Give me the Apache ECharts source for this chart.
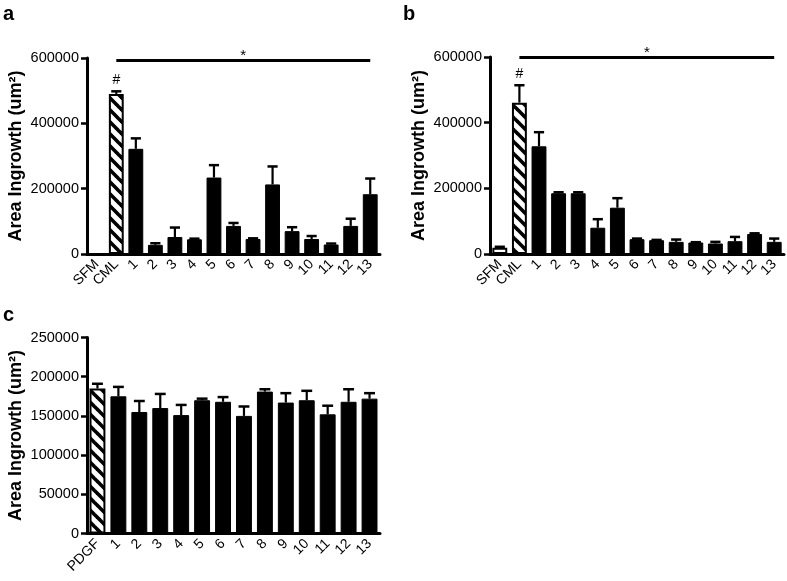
<!DOCTYPE html>
<html><head><meta charset="utf-8">
<script src="https://cdn.jsdelivr.net/npm/echarts@6/dist/echarts.min.js"></script>
<style>html,body{margin:0;padding:0;background:#fff}#c{width:787px;height:581px}</style>
</head><body><div id="c"></div>
<script>
// ---- data ----
const catsA = ['SFM','CML','1','2','3','4','5','6','7','8','9','10','11','12','13'];
const valA  = [0, 490000, 322000, 28000, 52000, 45000, 234000, 86000, 46000, 213000, 70000, 46000, 29000, 86000, 183000];
const errA  = [0, 8000, 32000, 5000, 29000, 2000, 38000, 9000, 2000, 55000, 12000, 9000, 3000, 22000, 48000];
const flagA = ['', '#', '', '', '', '', '', '', '', '', '', '', '', '', ''];

const catsB = ['SFM','CML','1','2','3','4','5','6','7','8','9','10','11','12','13'];
const valB  = [19000, 461000, 328000, 185000, 185000, 80000, 141000, 45000, 42000, 37000, 35000, 32000, 39000, 61000, 37000];
const errB  = [3000, 53000, 43000, 3000, 3000, 26000, 29000, 2000, 1000, 7000, 1000, 5000, 13000, 2000, 10000];
const flagB = ['', '#', '', '', '', '', '', '', '', '', '', '', '', '', ''];

const catsC = ['PDGF','1','2','3','4','5','6','7','8','9','10','11','12','13'];
const valC  = [185000, 175000, 155000, 160000, 151000, 170000, 168000, 150000, 181000, 167000, 170000, 152000, 168000, 172000];
const errC  = [6000, 12000, 14000, 18000, 13000, 2000, 6000, 12000, 3000, 12000, 12000, 11000, 16000, 7000];
const flagC = ['', '', '', '', '', '', '', '', '', '', '', '', '', ''];

const yTicksAB = [0, 200000, 400000, 600000];
const yTicksC  = [0, 50000, 100000, 150000, 200000, 250000];
const sigA = {from: 'CML', to: '13', level: 594000, label: '*'};
const sigB = {from: 'CML', to: '13', level: 600000, label: '*'};
const yName = 'Area Ingrowth (um\u00B2)';

// ---- styles ----
const FONT = 'Liberation Sans, Arial, Helvetica, sans-serif';
function makeHatch() {
  const s = 12, cv = document.createElement('canvas');
  cv.width = s; cv.height = s;
  const g = cv.getContext('2d');
  g.fillStyle = '#fff'; g.fillRect(0, 0, s, s);
  g.strokeStyle = '#000'; g.lineWidth = 3.6; g.lineCap = 'square';
  [-s, 0, s].forEach(c => { g.beginPath(); g.moveTo(0, c); g.lineTo(s, c + s); g.stroke(); });
  return cv;
}
const hatch = {image: makeHatch(), repeat: 'repeat'};
function styleFor(cat) {
  if (cat === 'CML' || cat === 'PDGF') return {color: hatch, borderColor: '#000', borderWidth: 2};
  if (cat === 'SFM') return {color: '#fff', borderColor: '#000', borderWidth: 2};
  return {color: '#000', borderColor: '#000', borderWidth: 1};
}

const grids = [
  {left: 87, top: 58, width: 293, height: 196},
  {left: 490, top: 57, width: 294, height: 197},
  {left: 87, top: 337.5, width: 293, height: 196}
];

function xAxisFor(cats, gi) {
  return {
    type: 'category', gridIndex: gi, data: cats,
    axisLine: {lineStyle: {color: '#000', width: 3}},
    axisTick: {alignWithLabel: true, length: 6, lineStyle: {color: '#000', width: 2.5}},
    axisLabel: {rotate: 45, color: '#000', fontSize: 14, fontFamily: FONT, margin: 8, interval: 0}
  };
}
function yAxisFor(ticks, gi) {
  return {
    type: 'value', gridIndex: gi,
    min: ticks[0], max: ticks[ticks.length - 1], interval: ticks[1] - ticks[0],
    name: yName, nameLocation: 'middle', nameGap: 62,
    nameTextStyle: {color: '#000', fontSize: 18, fontWeight: 'bold', fontFamily: FONT},
    splitLine: {show: false},
    axisLine: {show: true, lineStyle: {color: '#000', width: 3}},
    axisTick: {show: true, length: 6, lineStyle: {color: '#000', width: 2.5}},
    axisLabel: {color: '#000', fontSize: 14.5, fontFamily: FONT, margin: 8, formatter: v => String(v)}
  };
}
function errRender(flags) {
  return function (params, api) {
    const i = api.value(0), v = api.value(1), e = api.value(2);
    const p0 = api.coord([i, v]);
    const p1 = api.coord([i, v + e]);
    const hw = api.size([1, 0])[0] * 0.26;
    const children = [];
    if (e > 0) {
      children.push({type: 'line', shape: {x1: p0[0], y1: p0[1], x2: p1[0], y2: p1[1]}, style: {stroke: '#000', lineWidth: 2.2}});
      children.push({type: 'line', shape: {x1: p1[0] - hw, y1: p1[1], x2: p1[0] + hw, y2: p1[1]}, style: {stroke: '#000', lineWidth: 2.5}});
    }
    const f = flags[params.dataIndex];
    if (f) {
      children.push({type: 'text', style: {text: f, x: p1[0], y: p1[1] - 11, align: 'center', verticalAlign: 'middle',
        fontSize: 14, fontFamily: FONT, fill: '#000'}});
    }
    return {type: 'group', children};
  };
}
function seriesFor(cats, vals, errs, flags, gi, sig) {
  const bar = {
    type: 'bar', xAxisIndex: gi, yAxisIndex: gi, barCategoryGap: '24%',
    data: vals.map((v, i) => ({value: v, itemStyle: styleFor(cats[i])})),
    animation: false, silent: true
  };
  if (sig) {
    bar.markLine = {
      silent: true, symbol: ['none', 'none'], animation: false,
      lineStyle: {color: '#000', width: 3, type: 'solid'},
      label: {show: true, position: 'insideMiddleTop', formatter: sig.label, color: '#000', fontSize: 15, fontFamily: FONT, distance: -3},
      data: [[{coord: [sig.from, sig.level]}, {coord: [sig.to, sig.level]}]]
    };
  }
  const err = {
    type: 'custom', xAxisIndex: gi, yAxisIndex: gi, z: 5, animation: false, silent: true,
    data: vals.map((v, i) => [i, v, errs[i]]),
    renderItem: errRender(flags)
  };
  return [bar, err];
}

const chart = echarts.init(document.getElementById('c'), null, {renderer: 'canvas'});
chart.setOption({
  backgroundColor: '#fff',
  animation: false,
  grid: grids,
  xAxis: [xAxisFor(catsA, 0), xAxisFor(catsB, 1), xAxisFor(catsC, 2)],
  yAxis: [yAxisFor(yTicksAB, 0), yAxisFor(yTicksAB, 1), yAxisFor(yTicksC, 2)],
  series: [
    ...seriesFor(catsA, valA, errA, flagA, 0, sigA),
    ...seriesFor(catsB, valB, errB, flagB, 1, sigB),
    ...seriesFor(catsC, valC, errC, flagC, 2, null)
  ],
  graphic: [
    {type: 'text', left: 3, top: 4, style: {text: 'a', fontSize: 20, fontWeight: 'bold', fontFamily: FONT, fill: '#000'}},
    {type: 'text', left: 403, top: 4, style: {text: 'b', fontSize: 20, fontWeight: 'bold', fontFamily: FONT, fill: '#000'}},
    {type: 'text', left: 3, top: 305, style: {text: 'c', fontSize: 20, fontWeight: 'bold', fontFamily: FONT, fill: '#000'}}
  ]
});
</script>
</body></html>
